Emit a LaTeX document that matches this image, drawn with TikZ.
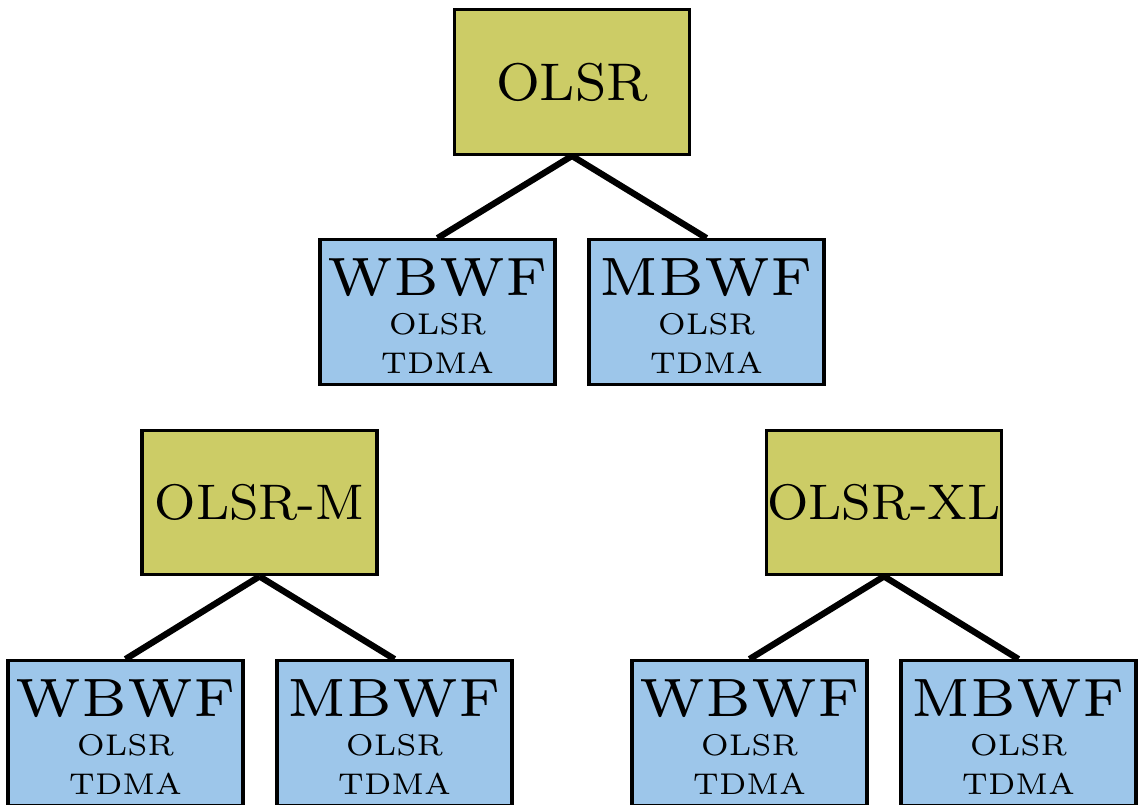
\documentclass[tikz,border=0pt]{standalone}
\usepackage{graphicx}
% Latin Modern at fixed optical sizes, scaled up
\font\protofont="[lmroman8-regular]" at 53pt
\font\subprotofont="[lmroman8-regular]" at 50pt
\font\headfont="[lmroman6-regular]" at 54pt
\font\subfont="[lmroman6-regular]" at 30pt
\definecolor{protoolive}{RGB}{204,204,102}
\definecolor{variantblue}{RGB}{157,198,234}
\tikzset{
  box/.style={draw=black, line width=3.3pt, rectangle, inner sep=0pt,
              minimum width=235pt, minimum height=144.5pt},
  proto/.style={box, fill=protoolive, font=\protofont},
  subproto/.style={proto, font=\subprotofont},
  variant/.style={box, fill=variantblue, align=center,
                  font=\fontsize{30}{39}\selectfont},
  link/.style={line width=6.3pt, black}
}
\newcommand{\variantlabel}[1]{{\headfont\rule{0pt}{44pt}#1}\\{\subfont OLSR}\\{\subfont TDMA}}
\begin{document}
\begin{tikzpicture}[x=1pt, y=1pt]
  \useasboundingbox (0,0) rectangle (1143,-804);
  \clip (0,0) rectangle (1143,-804);

  % top level protocol and its two variants
  \node[proto]   (olsr)   at (572,-82)     {OLSR};
  \node[variant] (wb1)    at (437.5,-312)  {\variantlabel{WBWF}};
  \node[variant] (mb1)    at (706.5,-312)  {\variantlabel{MBWF}};

  % second level protocols
  \node[subproto] (olsrm)  at (259.5,-502.5) {OLSR-M};
  \node[subproto] (olsrxl) at (884,-502.5)   {OLSR-XL};

  % their variants
  \node[variant] (wb2)    at (125.5,-733)  {\variantlabel{WBWF}};
  \node[variant] (mb2)    at (394.5,-733)  {\variantlabel{MBWF}};
  \node[variant] (wb3)    at (749.5,-733)  {\variantlabel{WBWF}};
  \node[variant] (mb3)    at (1018.5,-733) {\variantlabel{MBWF}};

  % tree edges
  \draw[link] (olsr.south)   -- (wb1.north);
  \draw[link] (olsr.south)   -- (mb1.north);
  \draw[link] (olsrm.south)  -- (wb2.north);
  \draw[link] (olsrm.south)  -- (mb2.north);
  \draw[link] (olsrxl.south) -- (wb3.north);
  \draw[link] (olsrxl.south) -- (mb3.north);
\end{tikzpicture}
\end{document}
